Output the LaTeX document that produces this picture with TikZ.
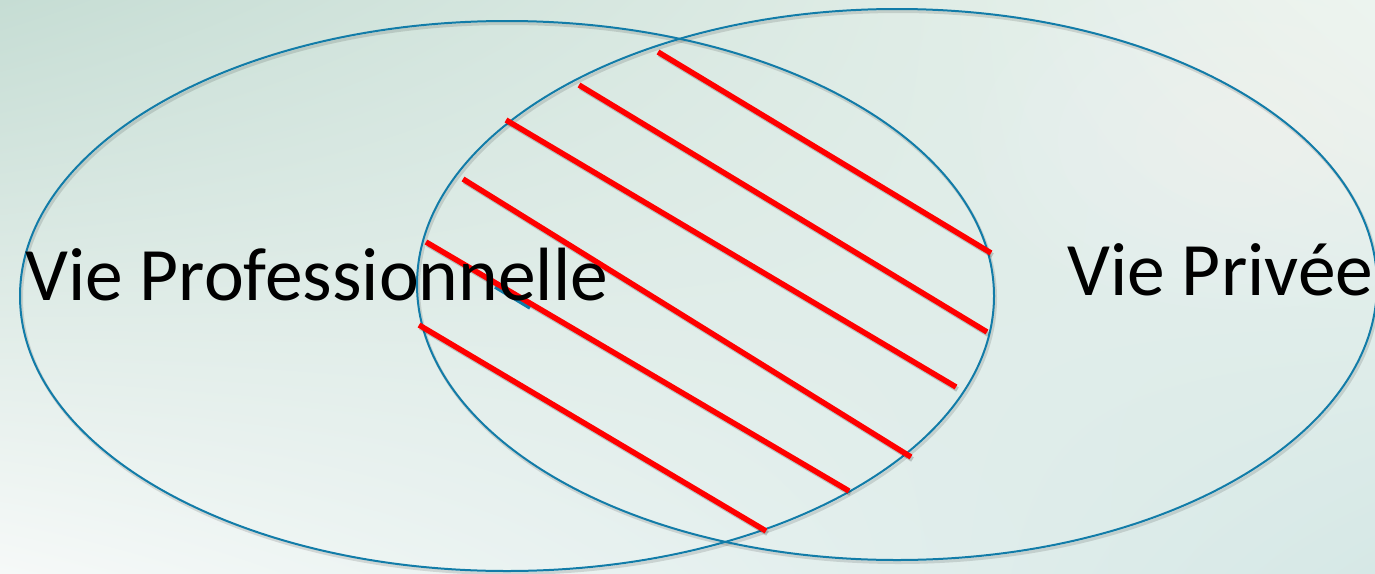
\documentclass[tikz,border=0pt]{standalone}
\usepackage{fontspec}
\setmainfont{Carlito}
\usetikzlibrary{shapes.geometric,shadings}
\definecolor{ring}{RGB}{18,124,168}
\definecolor{bgUL}{RGB}{198,221,212}
\definecolor{bgUR}{RGB}{236,244,239}
\definecolor{bgLL}{RGB}{246,249,248}
\definecolor{bgLR}{RGB}{214,232,230}
\definecolor{hatch}{RGB}{255,0,0}
\tikzset{
  ringline/.style={draw=ring, line width=2pt},
  ringshadow/.style={draw=black, opacity=0.12, line width=3pt},
  hatchline/.style={draw=hatch, line width=5.5pt},
  hatchshadow/.style={draw=black, opacity=0.18, line width=5pt},
  vennlabel/.style={anchor=base west, inner sep=0pt, text=black, font=\fontsize{75.5}{90}\selectfont}
}
\begin{document}
\begin{tikzpicture}[x=1pt,y=-1pt]
\useasboundingbox (0,0) rectangle (1375,573);
\shade[upper left=bgUL, upper right=bgUR, lower left=bgLL, lower right=bgLR] (0,0) rectangle (1375,573);
% soft glow (stacked faint layers)
\foreach \r in {1.0,0.85,0.7,0.55,0.4,0.25}{
  \fill[white, opacity=0.05] (1240,140) ellipse [x radius=260*\r, y radius=170*\r];
}
% ellipse shadows
\draw[ringshadow] (508.5,298.5) ellipse [x radius=487, y radius=275];
\draw[ringshadow] (898.5,287) ellipse [x radius=480, y radius=275.5];
% ellipses
\draw[ringline] (507,296) ellipse [x radius=487, y radius=275];
\draw[ringline] (897,284.5) ellipse [x radius=480, y radius=275.5];
% hatch coordinates
\coordinate (a1) at (658,52);  \coordinate (b1) at (991,253);
\coordinate (a2) at (579,85);  \coordinate (b2) at (987,332);
\coordinate (a3) at (506,120); \coordinate (b3) at (956,387);
\coordinate (a4) at (463,179); \coordinate (b4) at (911,457);
\coordinate (a5) at (426,242); \coordinate (b5) at (849,491);
\coordinate (a6) at (419,325); \coordinate (b6) at (766,531);
% shadows of hatch lines
\foreach \i in {1,...,6}{
  \draw[hatchshadow] ([shift={(1.5,2.5)}]a\i) -- ([shift={(1.5,2.5)}]b\i);
}
% small blue streak under the fifth line
\draw[draw=ring, line width=3.5pt] (495,287) -- (530,308);
\foreach \i in {1,...,6}{
  \draw[hatchline] (a\i) -- (b\i);
}
% labels
\node[vennlabel] (pro) at (25,300) {Vie Professionnelle};
\node[vennlabel] (priv) at (1067,295) {Vie Privée};
\end{tikzpicture}
\end{document}
